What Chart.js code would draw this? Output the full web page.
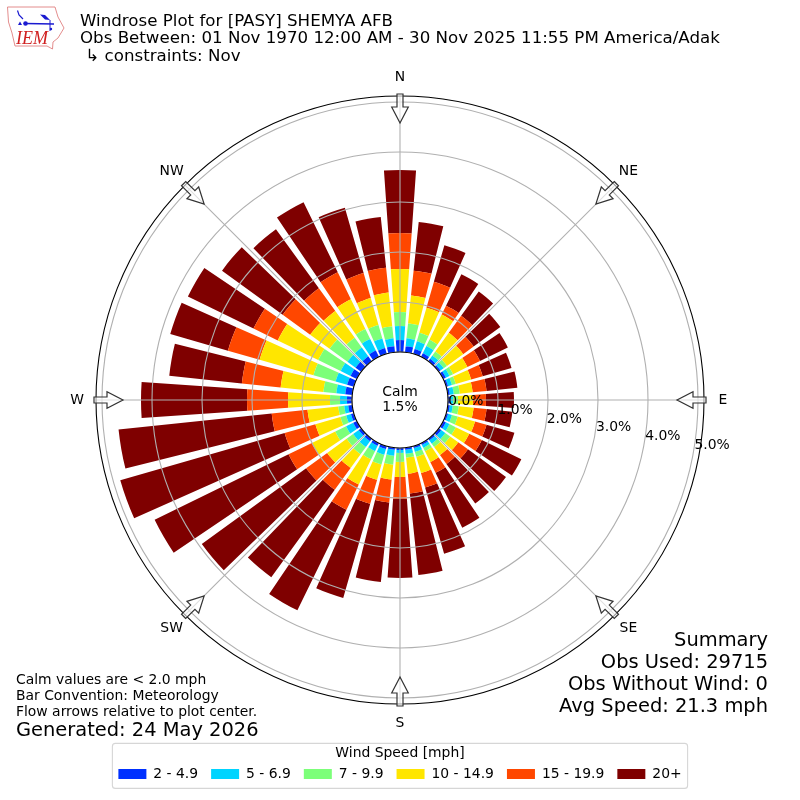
<!DOCTYPE html>
<html>
<head>
<meta charset="utf-8">
<style>
  html, body { margin: 0; padding: 0; background: #fff; }
  #wrap { position: relative; width: 800px; height: 800px; overflow: hidden; font-family: "DejaVu Sans", sans-serif; color: #000; }
  canvas { position: absolute; left: 0; top: 0; }
  .t { position: absolute; white-space: pre; line-height: 1; }
  .head { left: 80px; font-size: 16.67px; }
  .note { left: 16px; font-size: 13.9px; }
  .sum { right: 32px; font-size: 19.44px; text-align: right; }
  svg { position: absolute; left: 0; top: 0; }
</style>
<script src="https://cdn.jsdelivr.net/npm/chart.js@4"></script>
</head>
<body>
<div id="wrap">
  <canvas id="rose" width="800" height="800"></canvas>
  <svg width="70" height="55" viewBox="0 0 70 55">
    <path d="M7.5 7 L55 7 L58 17 L64 28 L58 38 L53 42 L52.5 49 L47 46 L15 46 L12 33 L8.5 22 Z" fill="#fff" stroke="#e08080" stroke-width="0.9"/>
    <path d="M25 23.5 L54 24" fill="none" stroke="#1a1ad0" stroke-width="1.6"/>
    <path d="M17.5 10.5 L19 15 L23 19" fill="none" stroke="#1a1ad0" stroke-width="1.2"/>
    <path d="M40 14.5 L45 15 L50 20 L45 19.5 Z" fill="#1a1ad0"/>
    <path d="M50 20 L50 31" fill="none" stroke="#1a1ad0" stroke-width="1"/>
    <circle cx="25.5" cy="23.5" r="2.3" fill="#1a1ad0"/>
    <path d="M18 25 L20 21.5 L22 25 Z" fill="#1a1ad0"/>
    <circle cx="51" cy="29" r="1.2" fill="#1a1ad0"/>
    <text x="16" y="44" font-family="Liberation Serif" font-style="italic" font-size="18" fill="#d02020">IEM</text>
  </svg>
  <div class="t head" style="top:13px">Windrose Plot for [PASY] SHEMYA AFB</div>
  <div class="t head" style="top:30px">Obs Between: 01 Nov 1970 12:00 AM - 30 Nov 2025 11:55 PM America/Adak</div>
  <div class="t head" style="top:48px"> ↳ constraints: Nov</div>
  <div class="t note" style="top:673px">Calm values are &lt; 2.0 mph</div>
  <div class="t note" style="top:689px">Bar Convention: Meteorology</div>
  <div class="t note" style="top:705px">Flow arrows relative to plot center.</div>
  <div class="t note" style="top:720px;font-size:19.44px">Generated: 24 May 2026</div>
  <div class="t sum" style="top:630px">Summary</div>
  <div class="t sum" style="top:652px">Obs Used: 29715</div>
  <div class="t sum" style="top:674px">Obs Without Wind: 0</div>
  <div class="t sum" style="top:696px">Avg Speed: 21.3 mph</div>
</div>
<script>
const directions = [0,10,20,30,40,50,60,70,80,90,100,110,120,130,140,150,160,170,180,190,200,210,220,230,240,250,260,270,280,290,300,310,320,330,340,350]
const speedLabels = ["2 - 4.9", "5 - 6.9", "7 - 9.9", "10 - 14.9", "15 - 19.9", "20+"]
const speedColors = ["#0030ff", "#00d4ff", "#7cff79", "#ffe600", "#ff4700", "#7f0000"]

// percent of obs per direction, one list per speed bin
const speed2 = [.24,.12,.10,.08,.06,.04,.06,.04,.04,.04,.04,.04,.06,.06,.04,.04,.04,.04,.04,.04,.06,.06,.06,.06,.08,.06,.08,.10,.14,.14,.14,.14,.12,.14,.12,.12]
const speed5 = [.28,.16,.16,.16,.08,.08,.08,.08,.08,.06,.06,.08,.08,.10,.08,.06,.08,.08,.06,.12,.12,.12,.14,.14,.16,.10,.08,.14,.18,.24,.22,.20,.22,.26,.20,.16]
const speed7 = [.28,.30,.18,.14,.10,.08,.08,.08,.12,.10,.12,.12,.14,.12,.08,.08,.10,.08,.18,.18,.20,.18,.18,.16,.24,.12,.12,.20,.26,.46,.50,.44,.24,.22,.28,.24]
const speed10 = [.86,.56,.52,.56,.46,.40,.32,.32,.26,.30,.30,.36,.30,.20,.20,.24,.34,.32,.30,.30,.32,.56,.34,.48,.52,.52,.62,.84,.86,1.12,.90,.48,.66,.66,.56,.68]
const speed15 = [.72,.50,.54,.20,.42,.26,.28,.24,.28,.26,.26,.24,.28,.24,.22,.24,.30,.40,.44,.46,.50,.56,.54,.52,.52,.64,.72,.82,.78,.66,.54,.68,.56,.60,.52,.50]
const speed20 = [1.26,.98,.76,.70,.60,.66,.62,.60,.62,.56,.52,.58,.88,.94,.98,1.22,1.38,1.64,1.58,1.60,1.96,2.24,2.16,2.58,2.98,3.42,3.08,2.12,1.46,1.20,1.46,1.50,1.46,1.56,1.36,1.02]
const speedBins = [speed2, speed5, speed7, speed10, speed15, speed20]

const tickValues = [0, 1, 2, 3, 4, 5]
const compass = [["N",0],["NE",45],["E",90],["SE",135],["S",180],["SW",225],["W",270],["NW",315]]

const font = '"DejaVu Sans", sans-serif'
const FS = 13.9

// floating wedges: polar area only draws from the centre and fills the whole sector
class WindroseController extends Chart.PolarAreaController {
  updateElement(arc, index, props, mode) {
    const ds = this.getDataset()
    const gap = Math.PI / 180
    if (props) {
      props.innerRadius = this._cachedMeta.rScale.getDistanceFromCenterForValue(ds.base[index])
      props.startAngle += gap
      props.endAngle -= gap
    }
    super.updateElement(arc, index, props, mode)
  }
}
WindroseController.id = "windrose"
WindroseController.defaults = {}
Chart.register(WindroseController)

let running = directions.map(() => 0)
const datasets = speedBins.map((bin, i) => {
  const base = running
  const top = base.map((b, k) => b + bin[k])
  running = top
  return { label: speedLabels[i], data: top, base, backgroundColor: speedColors[i], borderWidth: 0 }
})

function polar(scale, bearing, r) {
  const a = (bearing - 90) * Math.PI / 180
  return [scale.xCenter + r * Math.cos(a), scale.yCenter + r * Math.sin(a)]
}

function drawArrow(ctx, scale, bearing) {
  ctx.save()
  ctx.translate(scale.xCenter, scale.yCenter)
  ctx.rotate(bearing * Math.PI / 180)
  ctx.beginPath()
  ctx.moveTo(-3, -306)
  ctx.lineTo(3, -306)
  ctx.lineTo(3, -293)
  ctx.lineTo(8.3, -293)
  ctx.lineTo(0, -277)
  ctx.lineTo(-8.3, -293)
  ctx.lineTo(-3, -293)
  ctx.closePath()
  ctx.fillStyle = "rgba(255,255,255,0.6)"
  ctx.strokeStyle = "#333"
  ctx.lineWidth = 1.2
  ctx.fill()
  ctx.stroke()
  ctx.restore()
}

const rosePlugin = {
  id: "rose",
  afterDatasetsDraw(chart) {
    const { ctx } = chart
    const scale = chart.scales.r
    const inner = scale.getDistanceFromCenterForValue(0)
    ctx.save()
    ctx.strokeStyle = "#b0b0b0"
    ctx.lineWidth = 1.1
    compass.forEach(([, deg]) => {
      const [x0, y0] = polar(scale, deg, inner)
      const [x1, y1] = polar(scale, deg, scale.drawingArea)
      ctx.beginPath()
      ctx.moveTo(x0, y0)
      ctx.lineTo(x1, y1)
      ctx.stroke()
    })
    ctx.restore()
  },
  afterDraw(chart) {
    const { ctx } = chart
    const scale = chart.scales.r
    const inner = scale.getDistanceFromCenterForValue(0)
    ctx.save()
    // centre disc
    ctx.beginPath()
    ctx.arc(scale.xCenter, scale.yCenter, inner, 0, Math.PI * 2)
    ctx.fillStyle = "#fff"
    ctx.fill()
    ctx.strokeStyle = "#000"
    ctx.lineWidth = 1.1
    ctx.stroke()
    // outer spine
    ctx.beginPath()
    ctx.arc(scale.xCenter, scale.yCenter, scale.drawingArea, 0, Math.PI * 2)
    ctx.stroke()

    compass.forEach(([, deg]) => drawArrow(ctx, scale, deg))

    ctx.fillStyle = "#000"
    ctx.font = `${FS}px ${font}`
    ctx.textAlign = "center"
    ctx.textBaseline = "middle"
    compass.forEach(([name, deg]) => {
      const [x, y] = polar(scale, deg, 323)
      ctx.fillText(name, x, y)
    })
    ctx.fillText("Calm", scale.xCenter, scale.yCenter - 8)
    ctx.fillText("1.5%", scale.xCenter, scale.yCenter + 7)

    ctx.textAlign = "left"
    ctx.textBaseline = "alphabetic"
    tickValues.forEach(v => {
      const [x, y] = polar(scale, 100, scale.getDistanceFromCenterForValue(v))
      ctx.fillText(v.toFixed(1) + "%", x + 1, y - 3)
    })

    // legend frame
    const boxes = chart.legend.legendHitBoxes
    const first = boxes[0]
    const last = boxes[boxes.length - 1]
    ctx.beginPath()
    ctx.roundRect(first.left - 6, chart.legend.top + 39, last.left + last.width - first.left + 12, 45, 3)
    ctx.strokeStyle = "#d6d6d6"
    ctx.lineWidth = 1.1
    ctx.stroke()
    ctx.restore()
  }
}

new Chart(document.getElementById("rose"), {
  type: "windrose",
  data: { labels: directions.map(String), datasets },
  plugins: [rosePlugin],
  options: {
    responsive: false,
    animation: false,
    events: [],
    layout: { padding: { top: 96, left: 96, right: 96, bottom: 9 } },
    scales: {
      r: {
        type: "radialLinear",
        min: -0.96,
        max: 5.12,
        startAngle: -5,
        afterBuildTicks: s => { s.ticks = tickValues.map(value => ({ value })) },
        ticks: { display: false },
        grid: { circular: true, color: "#b0b0b0", lineWidth: 1.1, z: 1 },
        angleLines: { display: false },
        pointLabels: { display: false }
      }
    },
    plugins: {
      tooltip: { enabled: false },
      legend: {
        position: "bottom",
        title: {
          display: true,
          text: "Wind Speed [mph]",
          color: "#000",
          font: { family: font, size: FS },
          padding: { top: 42, bottom: -9 }
        },
        labels: {
          boxWidth: 28,
          boxHeight: 10,
          padding: 13,
          color: "#000",
          font: { family: font, size: FS },
          generateLabels: chart => chart.data.datasets.map((d, i) => ({
            text: d.label,
            fillStyle: d.backgroundColor,
            strokeStyle: d.backgroundColor,
            lineWidth: 0,
            datasetIndex: i
          }))
        }
      }
    }
  }
})
</script>
</body>
</html>
